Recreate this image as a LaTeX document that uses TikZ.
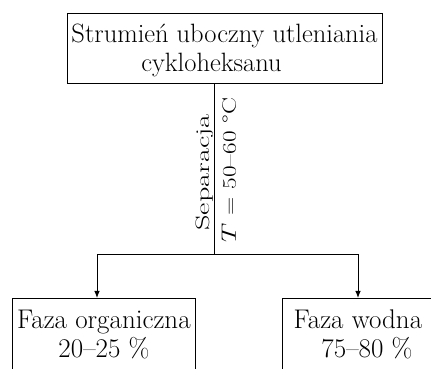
\documentclass[tikz,border=0pt]{standalone}
\usepackage{tikz}
\usetikzlibrary{arrows.meta,positioning,calc}

\begin{document}
\begin{tikzpicture}[x=1pt, y=1pt, font=\fontsize{26.5}{29}\selectfont,
    box/.style={draw, line width=0.9pt, align=center, inner sep=2pt},
    link/.style={line width=0.9pt},
    arr/.style={link, -{Latex[length=7pt,width=5.5pt]}},
    lbl/.style={rotate=90, font=\fontsize{19.5}{23}\selectfont}]
  \useasboundingbox (0,0) rectangle (431,369);

  % Top box
  \node[box, minimum width=315, minimum height=70] (feed) at (224.5,321)
    {\rule{0pt}{24pt}Strumie\'n uboczny utleniania\\cykloheksanu\hspace*{26pt}};

  % Product boxes (cut at the page edge)
  \node[box, minimum width=183, minimum height=72, anchor=north west,
        font=\fontsize{27}{29}\selectfont] (org) at (12,71)
    {Faza organiczna\\20--25 \%};
  \node[box, minimum width=151, minimum height=72, anchor=north west,
        font=\fontsize{27}{29}\selectfont] (aq) at (282,71)
    {Faza wodna\\\hspace*{18pt}75--80 \%};

  % Split point and bends
  \coordinate (split) at (214.5,115);
  \coordinate (lb) at (97,115);
  \coordinate (rb) at (358,115);

  \draw[link] (feed.south -| split) -- (split);
  \draw[arr] (split) -- (lb) -- (lb |- org.north);
  \draw[arr] (split) -- (rb) -- (rb |- aq.north);

  % Line labels
  \node[lbl, anchor=south, inner sep=1pt] (sep) at (214.5,196.5)
    {\scalebox{1.55}[1]{Separacja}};
  \node[lbl, anchor=north, inner sep=0pt] (temp) at (221.5,199)
    {\scalebox{1.3}[1]{$T$ = 50--60 \textdegree C}};
\end{tikzpicture}
\end{document}
